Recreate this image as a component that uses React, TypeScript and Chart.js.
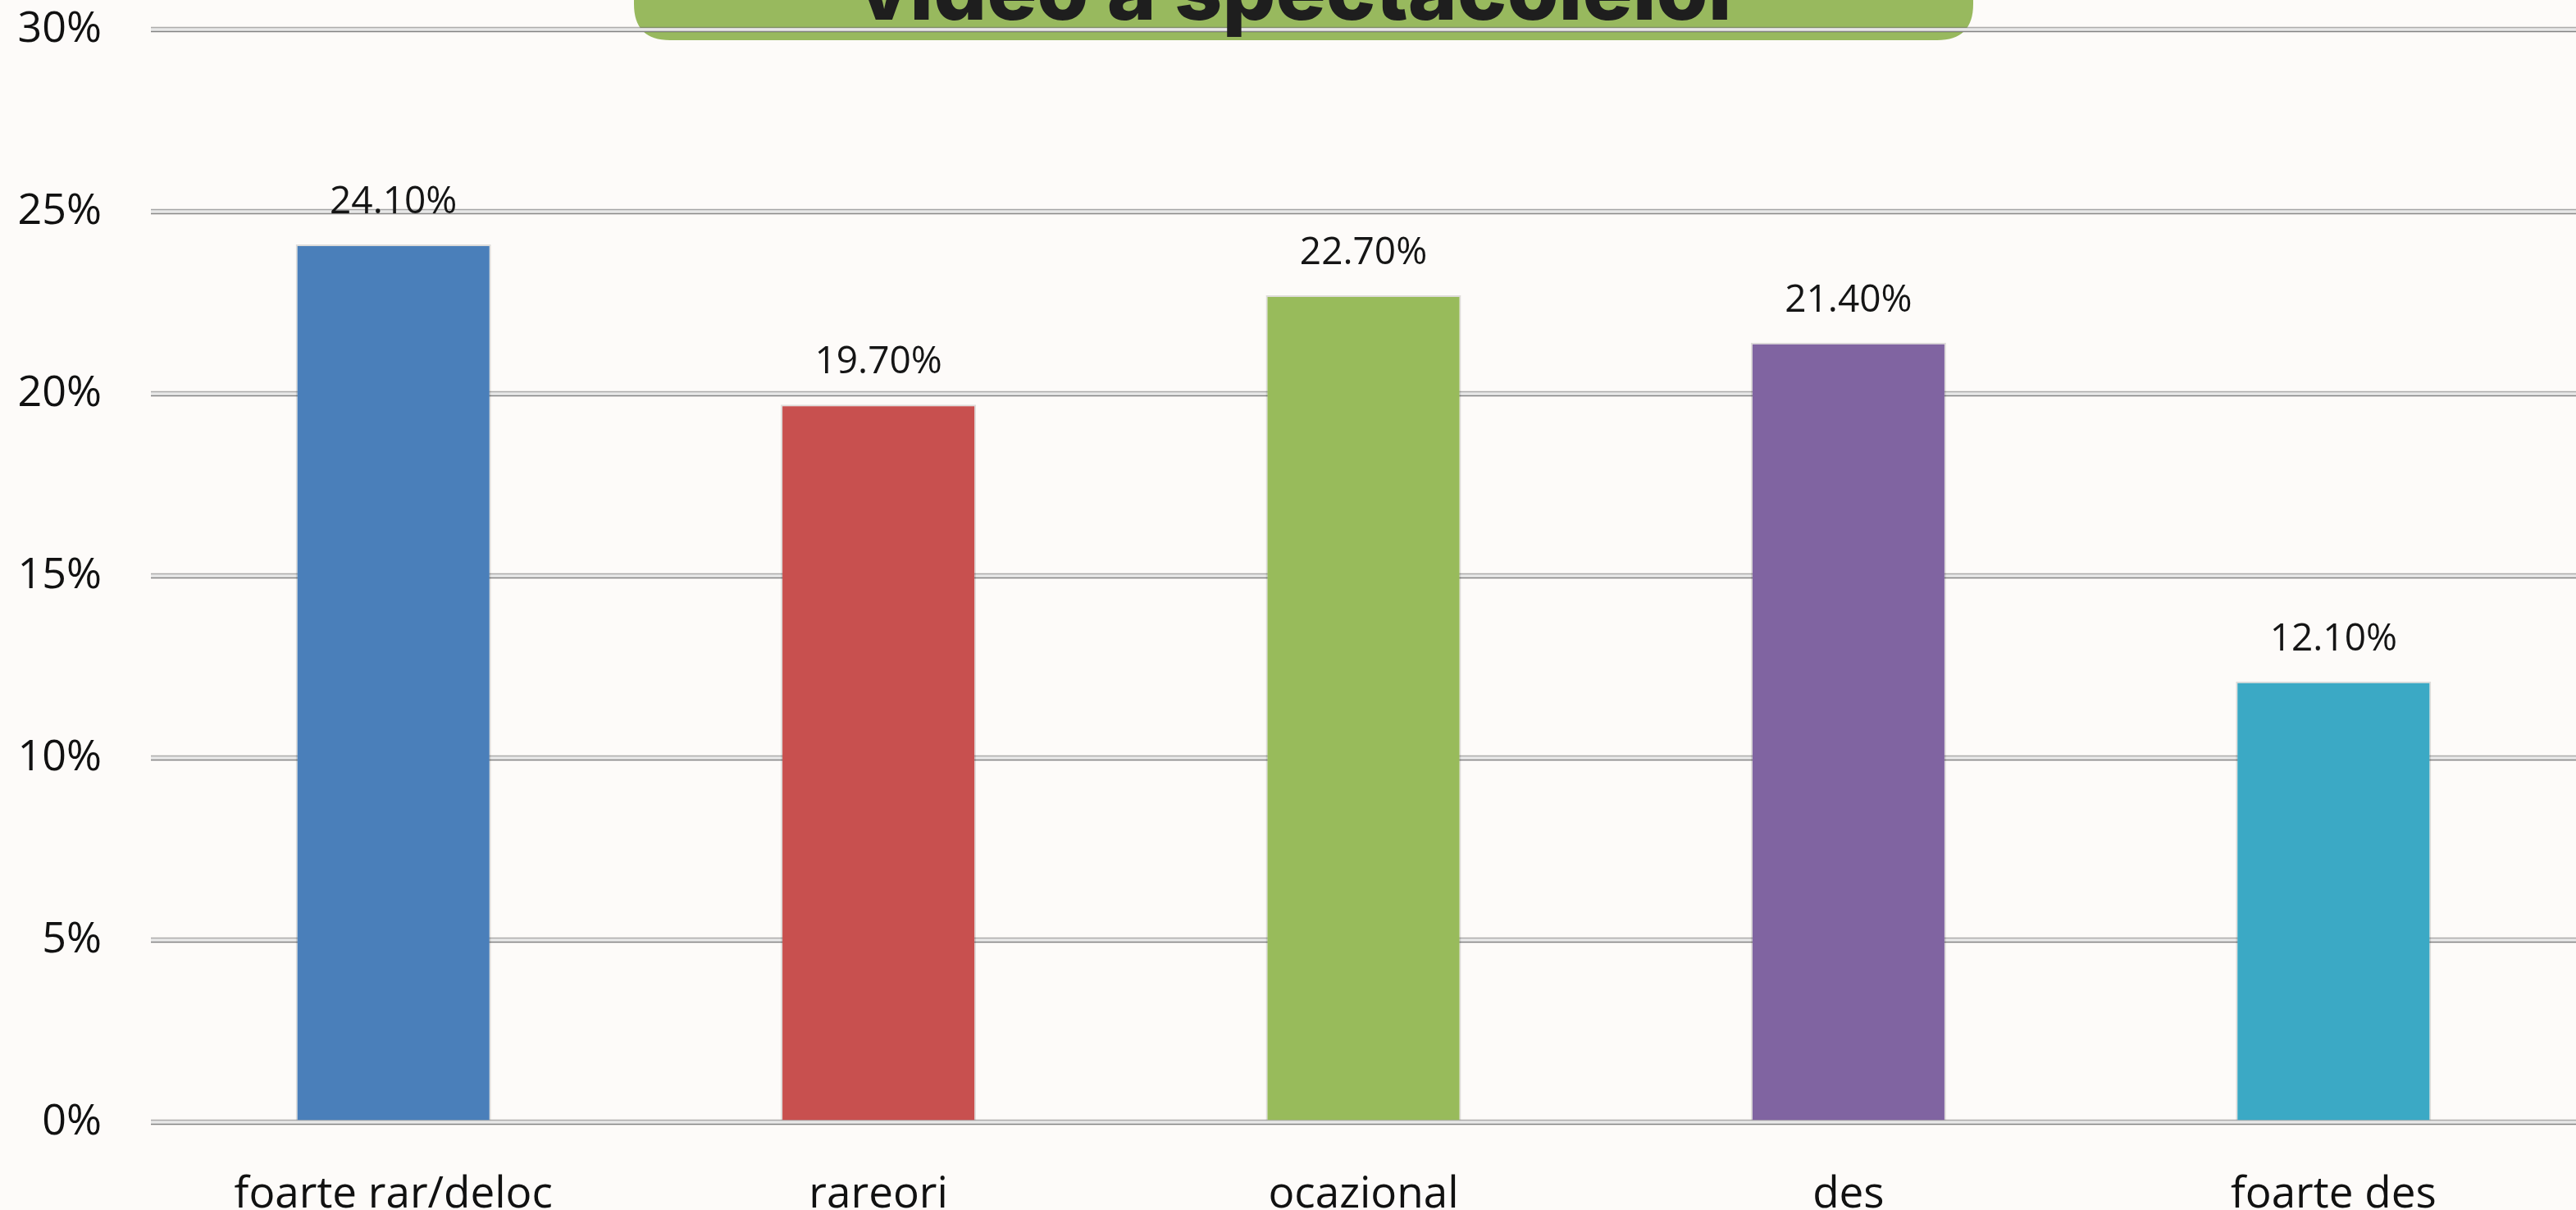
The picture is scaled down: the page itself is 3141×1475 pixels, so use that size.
import React, { useEffect, useRef } from "react";
import { Chart, registerables } from "chart.js";

Chart.register(...registerables);

const categories = ["foarte rar/deloc", "rareori", "ocazional", "des", "foarte des"];
const values = [24.1, 19.7, 22.7, 21.4, 12.1];
const barColors = ["#4a7fba", "#c8504f", "#98bb5b", "#8064a1", "#3ba9c5"];
const yTicks = [0, 5, 10, 15, 20, 25, 30];
const titleText = "video a spectacolelor";

const W = 3141;
const H = 1475;

const decorPlugin = {
  id: "decor",
  beforeDraw(chart: any) {
    const ctx = chart.ctx;
    ctx.save();
    ctx.fillStyle = "#fdfbf9";
    ctx.fillRect(0, 0, chart.width, chart.height);
    // title box
    const x0 = 773, x1 = 2406, y0 = -60, y1 = 49, r = 44;
    ctx.fillStyle = "#98b95e";
    ctx.beginPath();
    ctx.moveTo(x0, y0);
    ctx.lineTo(x1, y0);
    ctx.lineTo(x1, y1 - r);
    ctx.quadraticCurveTo(x1, y1, x1 - r, y1);
    ctx.lineTo(x0 + r, y1);
    ctx.quadraticCurveTo(x0, y1, x0, y1 - r);
    ctx.closePath();
    ctx.fill();
    ctx.restore();
  },
  beforeDatasetsDraw(chart: any) {
    const ctx = chart.ctx;
    const ys = chart.scales.y;
    const area = chart.chartArea;
    ctx.save();
    ctx.lineWidth = 1.6;
    ys.ticks.forEach((t: any) => {
      const y = ys.getPixelForValue(t.value);
      ctx.strokeStyle = "rgba(110,110,110,0.55)";
      ctx.beginPath();
      ctx.moveTo(area.left, y - 2.5);
      ctx.lineTo(area.right, y - 2.5);
      ctx.stroke();
      ctx.strokeStyle = "rgba(90,90,90,0.7)";
      ctx.beginPath();
      ctx.moveTo(area.left, y + 2.5);
      ctx.lineTo(area.right, y + 2.5);
      ctx.stroke();
    });
    ctx.restore();
  },
  afterDraw(chart: any) {
    const ctx = chart.ctx;
    ctx.save();
    // data labels
    const meta = chart.getDatasetMeta(0);
    ctx.fillStyle = "#151515";
    ctx.font = "46px 'Open Sans'";
    ctx.textAlign = "center";
    ctx.textBaseline = "alphabetic";
    meta.data.forEach((bar: any, i: number) => {
      ctx.fillText(values[i].toFixed(2) + "%", bar.x, bar.y - 38);
    });
    // title
    let size = 90;
    ctx.font = `800 ${size}px Inter`;
    const w = ctx.measureText(titleText).width;
    size = (size * 1079) / w;
    ctx.font = `800 ${size}px Inter`;
    ctx.fillStyle = "#1e1e1e";
    ctx.textAlign = "center";
    ctx.fillText(titleText, 1586, 24);
    ctx.restore();
  },
};

export default function App() {
  const ref = useRef<HTMLCanvasElement | null>(null);
  useEffect(() => {
    if (!ref.current) return;
    const chart = new Chart(ref.current, {
      type: "bar",
      data: {
        labels: categories,
        datasets: [
          {
            data: values,
            backgroundColor: barColors,
            borderColor: "rgba(0,0,0,0.12)",
            borderWidth: 2,
            barPercentage: 0.4025,
            categoryPercentage: 1,
          },
        ],
      },
      options: {
        animation: false,
        responsive: false,
        devicePixelRatio: 1,
        layout: { padding: { top: 36, right: 0, left: 0, bottom: 0 } },
        plugins: { legend: { display: false }, tooltip: { enabled: false }, title: { display: false } },
        scales: {
          x: {
            grid: { display: false },
            border: { display: false },
            ticks: {
              color: "#111",
              font: { family: "'Open Sans'", size: 53 },
              padding: 49,
              maxRotation: 0,
              autoSkip: false,
            },
            afterFit(scale: any) {
              scale.height = 107;
              scale.paddingLeft = 0;
              scale.paddingRight = 0;
            },
          },
          y: {
            min: yTicks[0],
            max: yTicks[yTicks.length - 1],
            border: { display: false },
            grid: { color: "#e8e8e8", lineWidth: 5, drawTicks: false },
            ticks: {
              stepSize: yTicks[1] - yTicks[0],
              color: "#111",
              font: { family: "'Open Sans'", size: 52 },
              padding: 60,
              callback: (v: any) => `${v}%`,
            },
            afterFit(scale: any) {
              scale.width = 184;
              scale.paddingTop = 0;
              scale.paddingBottom = 0;
            },
          },
        },
      },
      plugins: [decorPlugin],
    });
    return () => chart.destroy();
  }, []);
  return (
    <div style={{ position: "fixed", left: 0, top: 0, width: W, height: H, overflow: "hidden" }}>
      <canvas ref={ref} width={W} height={H} style={{ width: W, height: H, display: "block" }} />
    </div>
  );
}
